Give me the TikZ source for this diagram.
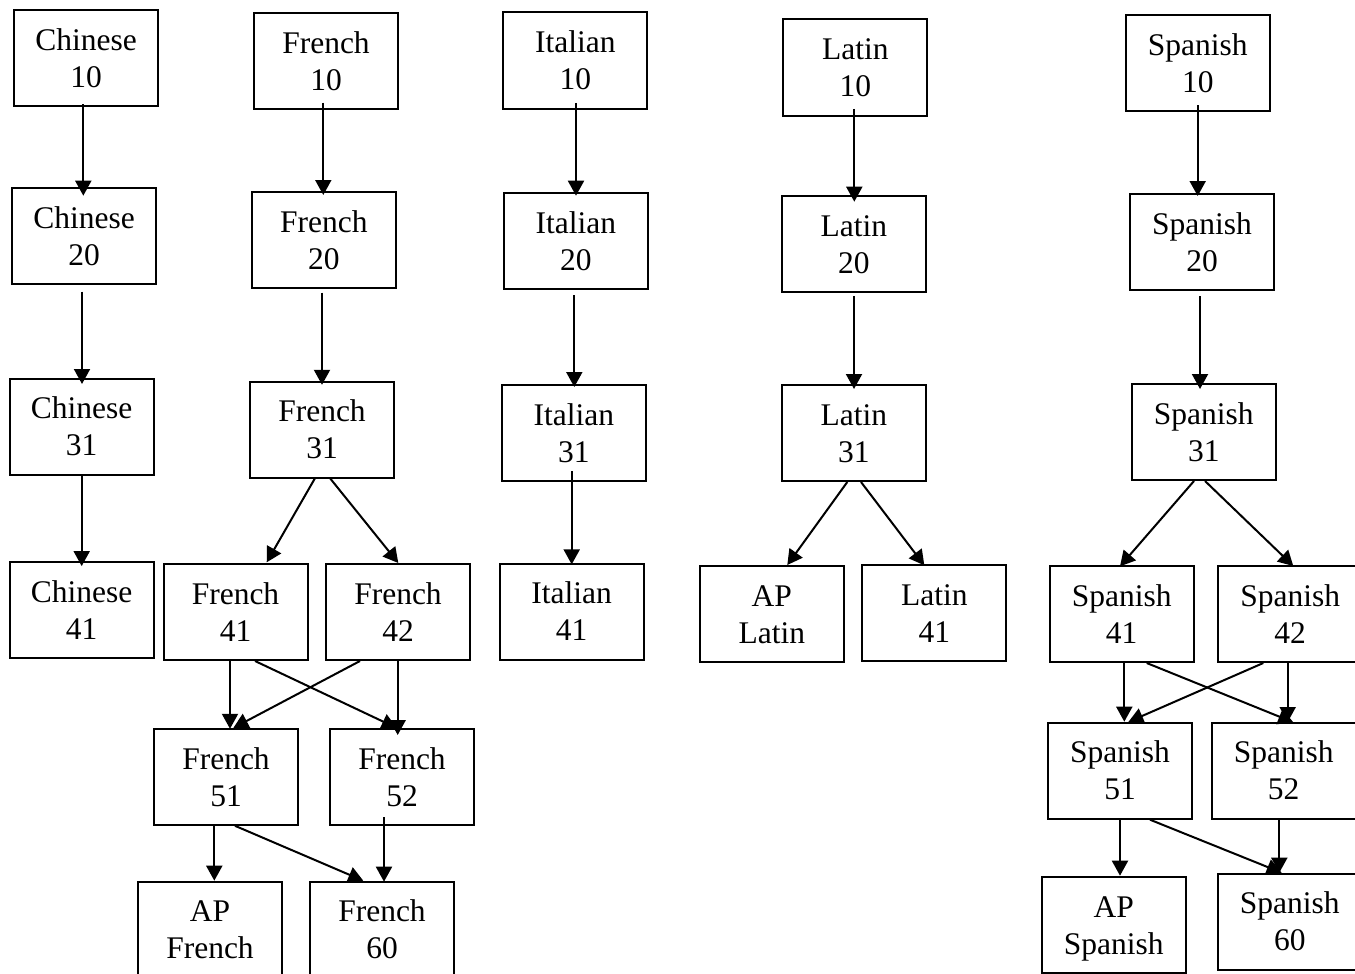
\documentclass[tikz,border=0pt]{standalone}
\usepackage{fontspec}
\setmainfont{Liberation Serif}
\usetikzlibrary{arrows.meta,calc}
\begin{document}
\begin{tikzpicture}[x=1pt,y=-1pt,
  crs/.style={draw, line width=2pt, minimum width=144pt, minimum height=96pt,
    inner sep=0pt, align=center, font=\fontsize{31.5}{37}\selectfont,
    text height=58.5pt, text depth=0pt},
  arr/.style={line width=2pt, -{Triangle[length=15pt,width=16pt]}}]
\useasboundingbox (0,0) rectangle (1355,974);
\clip (0,0) rectangle (1355,974);
% Chinese
\node[crs] (C10) at (86,58) {Chinese\\10};
\node[crs] (C20) at (84,236) {Chinese\\20};
\node[crs] (C31) at (81.7,426.7) {Chinese\\31};
\node[crs] (C41) at (81.7,609.8) {Chinese\\41};
% French
\node[crs] (F10) at (326,61) {French\\10};
\node[crs] (F20) at (323.8,240) {French\\20};
\node[crs] (F31) at (322,429.5) {French\\31};
\node[crs] (F41) at (235.5,612) {French\\41};
\node[crs] (F42) at (398,612) {French\\42};
\node[crs] (F51) at (226,776.8) {French\\51};
\node[crs] (F52) at (402,776.8) {French\\52};
\node[crs] (APF) at (210,929.7) {AP\\French};
\node[crs] (F60) at (382,929.7) {French\\60};
% Italian
\node[crs] (I10) at (575.3,60.5) {Italian\\10};
\node[crs] (I20) at (575.8,241.3) {Italian\\20};
\node[crs] (I31) at (573.8,433) {Italian\\31};
\node[crs] (I41) at (571.7,611.7) {Italian\\41};
% Latin
\node[crs] (L10) at (855.3,67.5) {Latin\\10};
\node[crs] (L20) at (853.8,244) {Latin\\20};
\node[crs] (L31) at (853.8,433) {Latin\\31};
\node[crs] (APL) at (771.8,614) {AP\\Latin};
\node[crs] (L41) at (934.3,613.3) {Latin\\41};
% Spanish
\node[crs] (S10) at (1197.8,63) {Spanish\\10};
\node[crs] (S20) at (1202,242) {Spanish\\20};
\node[crs] (S31) at (1203.8,432) {Spanish\\31};
\node[crs] (S41) at (1121.7,614) {Spanish\\41};
\node[crs] (S42) at (1290.2,614) {Spanish\\42};
\node[crs] (S51) at (1120,770.7) {Spanish\\51};
\node[crs] (S52) at (1283.7,770.7) {Spanish\\52};
\node[crs] (APS) at (1113.8,925.3) {AP\\Spanish};
\node[crs] (S60) at (1289.8,921.7) {Spanish\\60};
% Chinese arrows
\draw[arr] ($(C10.south)+(-2.7,-3)$) -- ($(C20.north)+(-0.7,8.7)$);
\draw[arr] ($(C20.south)+(-2,6.7)$) -- ($(C31.north)+(0.3,6.3)$);
\draw[arr] ($(C31.south)+(0,-1.7)$) -- ($(C41.north)+(0,5.3)$);
% French arrows
\draw[arr] ($(F10.south)+(-2.7,-7.3)$) -- ($(F20.north)+(-0.5,4)$);
\draw[arr] ($(F20.south)+(-1.8,3.7)$) -- ($(F31.north)+(0,4.3)$);
\draw[arr] ($(F31.south)+(-7,-0.3)$) -- ($(F41.north)+(31.2,-0.7)$);
\draw[arr] ($(F31.south)+(8,-0.3)$) -- ($(F42.north)+(0.3,0)$);
\draw[arr] ($(F41.south)+(-5.5,0)$) -- ($(F51.north)+(4,1)$);
\draw[arr] ($(F41.south)+(19.5,0)$) -- ($(F52.north)+(-5.3,0.2)$);
\draw[arr] ($(F42.south)+(-38,0)$) -- ($(F51.north)+(7.3,0.2)$);
\draw[arr] ($(F42.south)+(-0.3,0)$) -- ($(F52.north)+(-4.3,7.2)$);
\draw[arr] ($(F51.south)+(-11.7,0)$) -- ($(APF.north)+(4.3,0)$);
\draw[arr] ($(F51.south)+(9,0)$) -- ($(F60.north)+(-18.7,0)$);
\draw[arr] ($(F52.south)+(-18,-8.7)$) -- ($(F60.north)+(2,1)$);
% Italian arrows
\draw[arr] ($(I10.south)+(0.7,-6.6)$) -- ($(I20.north)+(0.2,3.4)$);
\draw[arr] ($(I20.south)+(-1.5,4.7)$) -- ($(I31.north)+(0.5,3)$);
\draw[arr] ($(I31.south)+(-2.1,-11)$) -- ($(I41.north)+(0,1.7)$);
% Latin arrows
\draw[arr] ($(L10.south)+(-1,-7.7)$) -- ($(L20.north)+(0.5,6.7)$);
\draw[arr] ($(L20.south)+(0.2,3)$) -- ($(L31.north)+(0.2,5)$);
\draw[arr] ($(L31.south)+(-6.5,0)$) -- ($(APL.north)+(15.5,0)$);
\draw[arr] ($(L31.south)+(7.2,0)$) -- ($(L41.north)+(-10,1)$);
% Spanish arrows
\draw[arr] ($(S10.south)+(-0.1,-7)$) -- ($(S20.north)+(-4.3,3)$);
\draw[arr] ($(S20.south)+(-2,5)$) -- ($(S31.north)+(-3.8,6)$);
\draw[arr] ($(S31.south)+(-9.8,0)$) -- ($(S41.north)+(-1.7,1.3)$);
\draw[arr] ($(S31.south)+(1.2,0)$) -- ($(S42.north)+(3.1,1)$);
\draw[arr] ($(S41.south)+(2.6,0)$) -- ($(S51.north)+(4.3,0)$);
\draw[arr] ($(S41.south)+(25,0)$) -- ($(S52.north)+(9.6,0.6)$);
\draw[arr] ($(S42.south)+(-26.9,0)$) -- ($(S51.north)+(8.3,0.3)$);
\draw[arr] ($(S42.south)+(-2.5,0)$) -- ($(S52.north)+(4,0.3)$);
\draw[arr] ($(S51.south)+(0,0)$) -- ($(APS.north)+(6.2,-0.6)$);
\draw[arr] ($(S51.south)+(30,0)$) -- ($(S60.north)+(-8.1,0)$);
\draw[arr] ($(S52.south)+(-4.4,0)$) -- ($(S60.north)+(-10.5,0)$);
\end{tikzpicture}
\end{document}
